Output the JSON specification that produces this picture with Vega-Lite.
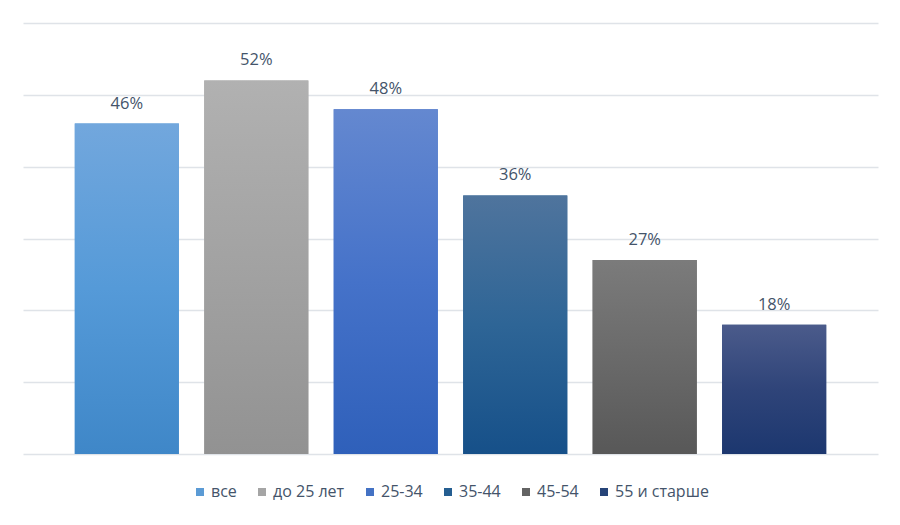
{
  "$schema": "https://vega.github.io/schema/vega-lite/v6.json",
  "width": 855,
  "height": 431,
  "autosize": "none",
  "padding": {"left": 23, "top": 23, "right": 22, "bottom": 71},
  "background": "white",
  "config": {
    "view": {"stroke": null},
    "font": "Open Sans",
    "legend": {"layout": {"bottom": {"anchor": "middle"}}}
  },
  "data": {
    "values": [
      {"group": "все", "value": 0.46},
      {"group": "до 25 лет", "value": 0.52},
      {"group": "25-34", "value": 0.48},
      {"group": "35-44", "value": 0.36},
      {"group": "45-54", "value": 0.27},
      {"group": "55 и старше", "value": 0.18}
    ]
  },
  "encoding": {
    "x": {
      "field": "group",
      "type": "nominal",
      "sort": null,
      "axis": null,
      "scale": {"paddingInner": 0.196, "paddingOuter": 0.4}
    },
    "y": {
      "field": "value",
      "type": "quantitative",
      "scale": {"domain": [0, 0.6]},
      "axis": {
        "values": [0, 0.1, 0.2, 0.3, 0.4, 0.5, 0.6],
        "grid": true,
        "labels": false,
        "ticks": false,
        "domain": false,
        "title": null,
        "gridColor": "#dfe3e8",
        "gridWidth": 1.5
      }
    }
  },
  "layer": [
    {
      "mark": {"type": "bar"},
      "encoding": {
        "color": {
          "field": "group",
          "type": "nominal",
          "sort": null,
          "scale": {
            "domain": ["все", "до 25 лет", "25-34", "35-44", "45-54", "55 и старше"],
            "range": ["#5b9bd5", "#a5a5a5", "#4472c4", "#255e91", "#636363", "#264478"]
          },
          "legend": {
            "orient": "bottom",
            "direction": "horizontal",
            "title": null,
            "offset": 30,
            "symbolType": "square",
            "symbolSize": 64,
            "symbolStrokeWidth": 0,
            "labelFont": "Open Sans",
            "labelFontSize": 16,
            "labelColor": "#44546a",
            "labelOffset": 3,
            "columnPadding": 17
          }
        }
      }
    },
    {
      "mark": {"type": "bar"},
      "encoding": {
        "fill": {
          "condition": [
            {"test": "datum.group === 'все'", "value": {"gradient": "linear", "x1": 0, "y1": 0, "x2": 0, "y2": 1, "stops": [{"offset": 0, "color": "#72a7dd"}, {"offset": 0.5, "color": "#559ad8"}, {"offset": 1, "color": "#3f87c8"}]}},
            {"test": "datum.group === 'до 25 лет'", "value": {"gradient": "linear", "x1": 0, "y1": 0, "x2": 0, "y2": 1, "stops": [{"offset": 0, "color": "#b1b1b1"}, {"offset": 0.5, "color": "#a2a2a2"}, {"offset": 1, "color": "#929292"}]}},
            {"test": "datum.group === '25-34'", "value": {"gradient": "linear", "x1": 0, "y1": 0, "x2": 0, "y2": 1, "stops": [{"offset": 0, "color": "#6488d0"}, {"offset": 0.5, "color": "#4572c9"}, {"offset": 1, "color": "#2f60ba"}]}},
            {"test": "datum.group === '35-44'", "value": {"gradient": "linear", "x1": 0, "y1": 0, "x2": 0, "y2": 1, "stops": [{"offset": 0, "color": "#4f749d"}, {"offset": 0.5, "color": "#2e6596"}, {"offset": 1, "color": "#165089"}]}},
            {"test": "datum.group === '45-54'", "value": {"gradient": "linear", "x1": 0, "y1": 0, "x2": 0, "y2": 1, "stops": [{"offset": 0, "color": "#7b7b7b"}, {"offset": 0.5, "color": "#6a6a6a"}, {"offset": 1, "color": "#585858"}]}}
          ],
          "value": {"gradient": "linear", "x1": 0, "y1": 0, "x2": 0, "y2": 1, "stops": [{"offset": 0, "color": "#4b5b8b"}, {"offset": 0.5, "color": "#2f4479"}, {"offset": 1, "color": "#1c376f"}]}
        }
      }
    },
    {
      "mark": {"type": "text", "dy": -15, "baseline": "alphabetic", "align": "center", "font": "Open Sans", "fontSize": 16.5, "color": "#44546a"},
      "encoding": {
        "text": {"field": "value", "type": "quantitative", "format": ".0%"}
      }
    }
  ]
}
